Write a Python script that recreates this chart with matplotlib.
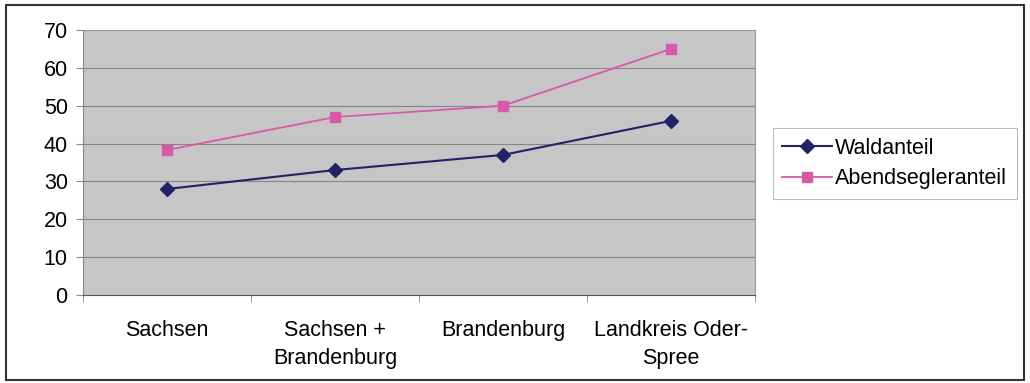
import matplotlib.pyplot as plt
from matplotlib.patches import Rectangle

plt.rcParams['font.family'] = ['Liberation Sans', 'DejaVu Sans']

categories = ['Sachsen', 'Sachsen +\nBrandenburg', 'Brandenburg', 'Landkreis Oder-\nSpree']
waldanteil = [28, 33, 37, 46]
abendsegler = [38.3, 47, 50, 65]
yticks = [0, 10, 20, 30, 40, 50, 60, 70]

fig = plt.figure(figsize=(10.30, 3.83), dpi=100)
fig.patches.append(Rectangle((0.006, 0.008), 0.988, 0.98, transform=fig.transFigure,
                             fill=False, edgecolor='#333333', linewidth=1.5))
ax = fig.add_axes([0.0806, 0.2298, 0.6524, 0.6919])
ax.set_facecolor('#c6c6c6')

x = list(range(len(categories)))
ax.plot(x, waldanteil, color='#222266', marker='D', markersize=7, linewidth=1.5,
        label='Waldanteil')
ax.plot(x, abendsegler, color='#d65aa5', marker='s', markersize=7, linewidth=1.3,
        label='Abendsegleranteil')

ax.set_xlim(-0.5, len(categories) - 0.5)
ax.set_ylim(0, 70)
ax.set_yticks(yticks)
ax.yaxis.grid(True, color='#858585', linewidth=0.8)
ax.set_axisbelow(True)

ax.set_xticks(x)
ax.set_xticklabels(categories, fontsize=15.5, linespacing=1.45)
ax.set_xticks([i + 0.5 for i in range(-1, len(categories))], minor=True)
ax.tick_params(axis='x', which='major', length=0, pad=18)
ax.tick_params(axis='x', which='minor', length=5, color='#888888')
ax.tick_params(axis='y', labelsize=15.5, length=5, color='#888888', pad=6)

for side in ['top', 'right']:
    ax.spines[side].set_color('#999999')
ax.spines['left'].set_color('#888888')
ax.spines['bottom'].set_color('#555555')

leg = fig.legend(loc='upper left', bbox_to_anchor=(0.750, 0.666), fontsize=15.5,
                 frameon=True, fancybox=False, edgecolor='#aaaaaa', handlelength=2.3,
                 handletextpad=0.15, borderpad=0.45, labelspacing=0.45, borderaxespad=0)
leg.get_frame().set_linewidth(0.8)

fig.savefig('out.png', dpi=100)
